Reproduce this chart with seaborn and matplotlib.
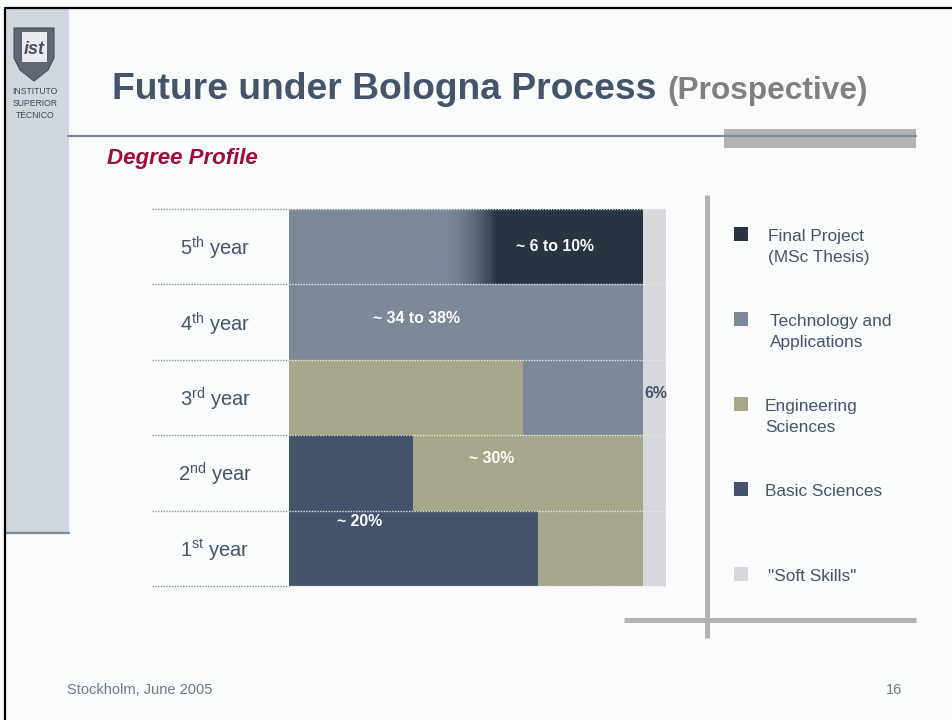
import numpy as np
import pandas as pd
import matplotlib
matplotlib.use("Agg")
import matplotlib.pyplot as plt
from matplotlib.patches import Rectangle, Polygon
from matplotlib.colors import LinearSegmentedColormap
import seaborn as sns

# ---- data (percent of each year, left to right) ----
years = ["5th", "4th", "3rd", "2nd", "1st"]
year_labels = [r"5$^{\mathrm{th}}$ year", r"4$^{\mathrm{th}}$ year", r"3$^{\mathrm{rd}}$ year",
               r"2$^{\mathrm{nd}}$ year", r"1$^{\mathrm{st}}$ year"]
basic_sciences = [0, 0, 0, 33, 66]
engineering_sciences = [0, 0, 62, 61, 28]
technology = [50, 94, 32, 0, 0]
final_project = [44, 0, 0, 0, 0]
soft_skills = [6, 6, 6, 6, 6]

categories = ["Basic Sciences", "Engineering Sciences", "Technology and Applications",
              "Final Project", "Soft Skills"]
legend_labels = ["Final Project\n(MSc Thesis)", "Technology and\nApplications",
                 "Engineering\nSciences", "Basic Sciences", "\"Soft Skills\""]
bar_notes = ["~ 6 to 10%", "~ 34 to 38%", "6%", "~ 30%", "~ 20%"]

# colours
c_basic = "#45536a"
c_eng = "#a7a78b"
c_tech = "#7d8899"
c_final = "#283541"
c_soft = "#d6d8db"
bg = "#fafbfb"
slate = "#46546a"

sns.set_style("white")
plt.rcParams["font.family"] = ["Liberation Sans", "DejaVu Sans"]
plt.rcParams["mathtext.fontset"] = "custom"
plt.rcParams["mathtext.rm"] = "Liberation Sans"

df = pd.DataFrame({"year": years, "Basic Sciences": basic_sciences,
                   "Engineering Sciences": engineering_sciences,
                   "Technology and Applications": technology,
                   "Final Project": final_project, "Soft Skills": soft_skills})
cum = df[categories].cumsum(axis=1)

fig = plt.figure(figsize=(9.52, 7.2), dpi=100, facecolor=bg)

# slide decoration in pixel coordinates
deco = fig.add_axes([0, 0, 1, 1])
deco.set_xlim(0, 952)
deco.set_ylim(720, 0)
deco.axis("off")
deco.set_facecolor(bg)

deco.add_patch(Rectangle((6, 9), 63, 524, color="#d0d7df", lw=0))
deco.plot([6, 69], [533, 533], color="#7d8899", lw=1.6)
deco.plot([5, 5, 952], [720, 8, 8], color="black", lw=1.6)

# logo
shield = Polygon([(14, 28), (54, 28), (54, 58), (48, 70), (34, 81), (20, 70), (14, 58)],
                 closed=True, facecolor="#5f6773", edgecolor="#4a515c", lw=0.8)
deco.add_patch(shield)
deco.add_patch(Rectangle((22, 32), 25, 30, color="#e9ebee", lw=0))
deco.text(34.5, 50, "ist", fontsize=13, fontweight="bold", style="italic", color="#4a515c",
          ha="center", va="center")
for t, yy in zip(["INSTITUTO", "SUPERIOR", "TÉCNICO"], [91, 103, 115]):
    deco.text(35, yy, t, fontsize=6.2, color="#3b4656", ha="center", va="center")

# title
deco.text(112, 99, "Future under Bologna Process", fontsize=26.8, fontweight="bold",
          color=slate, va="baseline")
deco.text(667, 99, "(Prospective)", fontsize=22.8, fontweight="bold", color="#808080",
          va="baseline")
deco.add_patch(Rectangle((724, 129), 192, 19, color="#b2b2b2", lw=0))
deco.plot([68, 916], [136, 136], color="#7d8899", lw=1.6)
deco.text(107, 164, "Degree Profile", fontsize=16, fontweight="bold", style="italic",
          color="#9e0b3c", va="baseline")

# cross lines
deco.plot([707, 707], [195, 638], color="#b3b3b3", lw=3.6, solid_capstyle="butt")
deco.plot([624, 916], [620, 620], color="#b3b3b3", lw=3.6, solid_capstyle="butt")

# legend
leg_colors = [c_final, c_tech, c_eng, c_basic, c_soft]
leg_y = [234, 319, 404, 489, 574]
leg_tx = [768, 770, 765, 765, 768]
for col, yy, tx, lab in zip(leg_colors, leg_y, leg_tx, legend_labels):
    deco.add_patch(Rectangle((734, yy - 7), 14, 14, color=col, lw=0))
    for k, line in enumerate(lab.split("\n")):
        deco.text(tx, yy + 7 + 21 * k, line, fontsize=12.4, color=slate, va="baseline")

# footer
deco.text(67, 694, "Stockholm, June 2005", fontsize=10.5, color="#6b7a8f", va="baseline")
deco.text(902, 694, "16", fontsize=10.5, color="#6b7a8f", va="baseline", ha="right")

# ---- bars ----
ax = fig.add_axes([152 / 952, 1 - 586 / 720, 514 / 952, 377 / 720])
ax.patch.set_alpha(0)
colors = [c_basic, c_eng, c_tech, c_final, c_soft]
for cat, col in reversed(list(zip(categories, colors))):
    sns.barplot(x=cum[cat], y=df["year"], order=years, orient="h", color=col,
                saturation=1, width=1.0, errorbar=None, linewidth=0, ax=ax)

# soft transition between technology and final project in the 5th year
tech_end = cum["Technology and Applications"][0]
grad = np.linspace(0, 1, 300)
grad = grad ** 2.2
cmap = LinearSegmentedColormap.from_list("tf", [c_tech, c_final])
ax.imshow(grad[np.newaxis, :], cmap=cmap, aspect="auto",
          extent=(tech_end - 11, tech_end + 5, 0.5, -0.5), zorder=3)

xmin = -(289 - 152) / 3.77
ax.set_xlim(xmin, 100)
ax.set_ylim(4.5, -0.5)
ax.set_xticks([])
ax.set_yticks([])
ax.set_xlabel("")
ax.set_ylabel("")
for s in ax.spines.values():
    s.set_visible(False)

for i in range(6):
    ax.plot([xmin, 0], [i - 0.5, i - 0.5], color="#8a909a", lw=1, ls=(0, (1, 1)),
            clip_on=False, zorder=4)
    ax.plot([0, 100], [i - 0.5, i - 0.5], color="#e4e7ea", lw=1, ls=(0, (1, 1)),
            clip_on=False, zorder=4)

for i, lab in enumerate(year_labels):
    ax.text(-19.6, i + 0.12, lab, fontsize=14.5, color=slate, ha="center", va="baseline")

note_pos = [(70.6, 0.0), (33.7, -0.05), (97.3, -0.05), (53.8, -0.19), (18.8, -0.36)]
note_col = ["white", "white", slate, "white", "white"]
for i, (txt, (nx, dy), nc) in enumerate(zip(bar_notes, note_pos, note_col)):
    ax.text(nx, i + dy, txt, fontsize=11.4, fontweight="bold", color=nc,
            ha="center", va="center", zorder=5)

fig.savefig("out.png", dpi=100, facecolor=bg)
